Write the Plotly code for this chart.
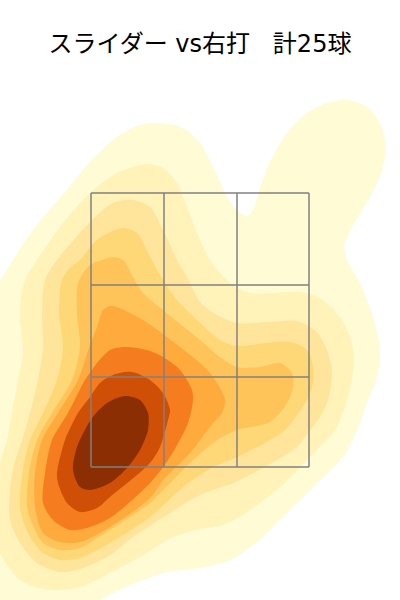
import plotly.graph_objects as go

# density bands, outermost first
# units: horizontal from zone centre, height above zone bottom
band1 = [(-208,169),(-187,207),(-167,237),(-133,277),(-110,305),(-83,330),(-60,342),(-40,344),(-17,339),(0,324),(8,310),(17,292),(25,274),(35,259),(47,251),(53,257),(60,279),(70,305),(87,334),(107,354),(127,364),(147,367),(167,360),(180,344),(186,320),(182,297),(170,270),(157,249),(147,230),(144,220),(147,207),(160,184),(173,150),(180,117),(177,90),(167,64),(157,37),(143,10),(113,-20),(87,-46),(57,-75),(30,-93),(0,-101),(-33,-105),(-57,-113),(-77,-121),(-100,-133),(-115,-143),(-160,-158),(-220,-158),(-225,17)]
band2 = [(-175,187),(-180,154),(-177,114),(-182,87),(-188,54),(-193,27),(-200,4),(-206,-23),(-206,-63),(-200,-86),(-180,-113),(-150,-123),(-120,-120),(-90,-106),(-53,-86),(-27,-70),(0,-62),(23,-58),(50,-43),(80,-20),(110,10),(135,37),(147,67),(153,97),(152,124),(140,150),(120,169),(100,175),(73,174),(50,174),(37,179),(20,194),(10,207),(0,227),(-13,260),(-23,284),(-37,299),(-53,303),(-83,294),(-110,274),(-137,244),(-163,207)]
band3 = [(-143,207),(-155,187),(-158,154),(-157,120),(-162,87),(-170,54),(-178,27),(-186,2),(-190,-23),(-190,-53),(-180,-76),(-163,-96),(-140,-105),(-117,-101),(-90,-88),(-67,-70),(-30,-46),(0,-28),(33,-16),(63,-1),(97,20),(110,37),(120,50),(128,67),(132,94),(128,114),(117,135),(97,146),(67,145),(37,144),(17,152),(0,165),(-13,190),(-23,207),(-37,237),(-50,260),(-67,267),(-87,264),(-110,245)]
band4 = [(-130,199),(-120,207),(-103,227),(-78,239),(-63,234),(-52,214),(-37,187),(-23,167),(0,144),(20,127),(37,121),(67,124),(90,125),(107,117),(113,100),(113,84),(107,67),(97,52),(85,37),(70,27),(37,10),(13,0),(-17,-20),(-50,-50),(-90,-76),(-120,-91),(-140,-93),(-158,-85),(-172,-66),(-180,-40),(-177,-3),(-170,27),(-157,54),(-143,87),(-137,120),(-141,154),(-138,187)]
band5 = [(-110,202),(-98,207),(-87,210),(-77,207),(-67,190),(-57,174),(-37,157),(0,127),(20,110),(37,100),(60,100),(80,104),(92,94),(93,80),(87,64),(70,45),(37,37),(17,27),(-10,4),(-37,-23),(-50,-36),(-95,-66),(-120,-81),(-140,-83),(-157,-76),(-168,-56),(-173,-40),(-171,-6),(-163,27),(-148,54),(-128,87),(-120,120),(-123,154),(-122,184)]
band6 = [(-90,161),(-83,160),(-57,147),(-33,130),(0,104),(10,94),(20,79),(25,67),(22,54),(13,44),(-10,14),(-37,-13),(-50,-31),(-90,-60),(-120,-75),(-140,-75),(-157,-66),(-165,-40),(-165,-6),(-158,27),(-142,54),(-122,87),(-110,122),(-103,140),(-97,157)]
band7 = [(-75,120),(-53,117),(-37,110),(-20,97),(-8,77),(-7,67),(-12,44),(-30,10),(-50,-16),(-90,-51),(-113,-61),(-130,-63),(-147,-53),(-157,-36),(-155,-6),(-148,27),(-132,54),(-115,87),(-108,97),(-103,104),(-90,117)]
band8 = [(-68,95),(-50,87),(-37,74),(-30,57),(-32,47),(-40,20),(-50,4),(-90,-30),(-103,-41),(-120,-45),(-133,-36),(-142,-16),(-143,-6),(-135,27),(-122,54),(-110,70),(-100,84),(-87,92)]
band9 = [(-75,71),(-60,67),(-52,54),(-52,37),(-60,17),(-73,-1),(-90,-16),(-110,-23),(-120,-20),(-127,-3),(-123,20),(-108,49),(-93,64)]

bands = [band1, band2, band3, band4, band5, band6, band7, band8, band9]
colors = ["#FFFBD5", "#FFF3B9", "#FEE59B", "#FED777", "#FEC45A", "#FEAA3D", "#F57D1F", "#CF4F07", "#8B2E03"]

# strike zone lines
zone_x = [-109, -36, 37, 109]
zone_y = [0, 90, 182, 274]

title_text = "スライダー vs右打\u00a0\u00a0\u00a0計25球"

fig = go.Figure()

for band, color in zip(bands, colors):
    xs = [p[0] for p in band] + [band[0][0]]
    ys = [p[1] for p in band] + [band[0][1]]
    fig.add_trace(go.Scatter(x=xs, y=ys, mode="lines", fill="toself", fillcolor=color,
                             line=dict(width=0, shape="spline", smoothing=0.8, color=color),
                             hoverinfo="skip", showlegend=False))

# 3x3 grid
for zx in zone_x:
    fig.add_trace(go.Scatter(x=[zx, zx], y=[zone_y[0], zone_y[-1]], mode="lines",
                             line=dict(color="#808080", width=1.5), hoverinfo="skip", showlegend=False))
for zy in zone_y:
    fig.add_trace(go.Scatter(x=[zone_x[0], zone_x[-1]], y=[zy, zy], mode="lines",
                             line=dict(color="#808080", width=1.5), hoverinfo="skip", showlegend=False))

fig.update_layout(
    width=400, height=600,
    margin=dict(l=0, r=0, t=0, b=0),
    paper_bgcolor="white", plot_bgcolor="rgba(0,0,0,0)",
    title=dict(text=title_text, x=0.5, xanchor="center", y=0.928, yanchor="middle",
               font=dict(family="DejaVu Sans, Noto Sans CJK JP", size=24, color="#000000")),
    xaxis=dict(range=[-200, 200], visible=False, fixedrange=True),
    yaxis=dict(range=[-133, 467], visible=False, fixedrange=True),
)

# page margin off so the chart fills the window
fig.write_html("out.html", config=dict(displayModeBar=False),
               post_script="document.body.style.margin='0';")
